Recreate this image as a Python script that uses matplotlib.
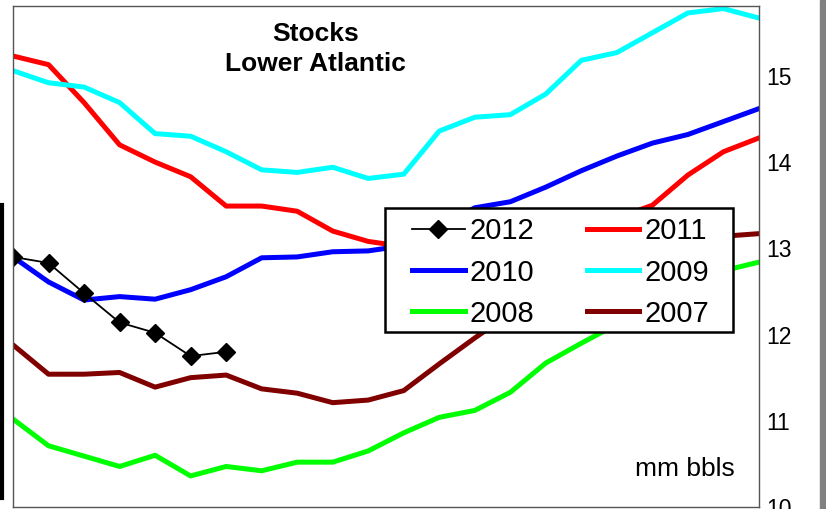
"""Lower Atlantic stocks, weekly, by year."""
import matplotlib
matplotlib.use("Agg")
import matplotlib.pyplot as plt
from matplotlib.lines import Line2D
from matplotlib.patches import Rectangle

plt.rcParams["font.family"] = ["Liberation Sans", "DejaVu Sans"]

weeks = list(range(22))

stocks_2012 = [12.90, 12.83, 12.48, 12.14, 12.02, 11.75, 11.80]
stocks_2011 = [15.23, 15.13, 14.69, 14.20, 14.00, 13.83, 13.49, 13.49, 13.43, 13.20, 13.08,
               13.02, 12.98, 13.00, 13.05, 13.12, 13.22, 13.35, 13.50, 13.85, 14.12, 14.28]
stocks_2010 = [12.90, 12.61, 12.40, 12.44, 12.41, 12.52, 12.67, 12.89, 12.90, 12.96, 12.97,
               13.03, 13.25, 13.47, 13.54, 13.71, 13.90, 14.07, 14.22, 14.32, 14.47, 14.62]
stocks_2009 = [15.06, 14.92, 14.87, 14.69, 14.33, 14.30, 14.12, 13.91, 13.88, 13.94, 13.81,
               13.86, 14.36, 14.52, 14.55, 14.79, 15.18, 15.27, 15.50, 15.73, 15.78, 15.67]
stocks_2008 = [11.02, 10.71, 10.59, 10.47, 10.60, 10.36, 10.47, 10.42, 10.52, 10.52, 10.65,
               10.86, 11.04, 11.12, 11.33, 11.67, 11.90, 12.12, 12.33, 12.55, 12.74, 12.84]
stocks_2007 = [11.88, 11.54, 11.54, 11.56, 11.39, 11.50, 11.53, 11.37, 11.32, 11.21, 11.24,
               11.35, 11.66, 11.96, 12.25, 12.50, 12.70, 12.85, 12.97, 13.07, 13.14, 13.17]

fig = plt.figure(figsize=(8.26, 5.09), dpi=100)
ax = fig.add_axes([13 / 826, 1 - 507 / 509, 746 / 826, 501 / 509])

lw = 3.6
l11, = ax.plot(weeks, stocks_2011, color="#ff0000", lw=lw, label="2011")
l09, = ax.plot(weeks, stocks_2009, color="#00ffff", lw=lw, label="2009")
l10, = ax.plot(weeks, stocks_2010, color="#0000ff", lw=lw, label="2010")
l07, = ax.plot(weeks, stocks_2007, color="#800000", lw=lw, label="2007")
l08, = ax.plot(weeks, stocks_2008, color="#00ff00", lw=lw, label="2008")
l12, = ax.plot(weeks[:len(stocks_2012)], stocks_2012, color="black", lw=1.3,
               marker="D", markersize=9, label="2012")

ax.set_xlim(0, 21)
ax.set_ylim(10, 15.81)
ax.set_xticks([])
ax.yaxis.tick_right()
ax.set_yticks([10, 11, 12, 13, 14, 15])
ax.tick_params(axis="y", length=0, pad=5, labelsize=16.5)
for s in ax.spines.values():
    s.set_color("#555555")
    s.set_linewidth(1.0)

ax.text(0.406, 0.969, "Stocks\nLower Atlantic", transform=ax.transAxes,
        ha="center", va="top", fontsize=19, fontweight="bold", linespacing=1.32)
ax.text(0.967, 0.062, "mm bbls", transform=ax.transAxes, ha="right", va="baseline",
        fontsize=19)

# legend box drawn on its own, entries placed inside it
ax.add_patch(Rectangle((0.499, 0.349), 0.466, 0.248, transform=ax.transAxes,
                       facecolor="white", edgecolor="black", lw=1.8, zorder=4))
ax.legend(handles=[l12, l10, l08, l11, l09, l07], ncol=2, loc="upper left",
          bbox_to_anchor=(0.535, 0.578), fontsize=21, frameon=False,
          handlelength=1.8, handletextpad=0.17, columnspacing=1.8,
          labelspacing=0.45, borderpad=0, borderaxespad=0)

# cropped borders of the original picture
fig.add_artist(Rectangle((820 / 826, 0), 6 / 826, 1, transform=fig.transFigure,
                         color="#808080"))
fig.add_artist(Line2D([2 / 826, 2 / 826], [1 - 498 / 509, 1 - 205 / 509],
                      transform=fig.transFigure, color="black", lw=3))

fig.savefig("out.png", dpi=100)
